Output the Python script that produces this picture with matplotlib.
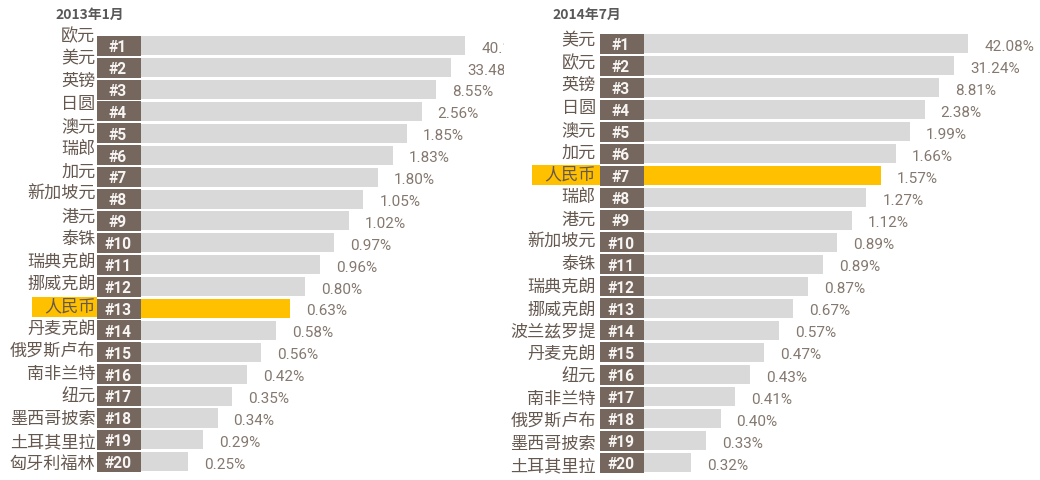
import matplotlib
matplotlib.use("Agg")
import matplotlib.pyplot as plt
import numpy as np
from matplotlib.patches import Rectangle

# ---------------- data ----------------
left_title = "2013年1月"
left_names = ["欧元", "美元", "英镑", "日圆", "澳元", "瑞郎", "加元", "新加坡元", "港元", "泰铢",
              "瑞典克朗", "挪威克朗", "人民币", "丹麦克朗", "俄罗斯卢布", "南非兰特", "纽元",
              "墨西哥披索", "土耳其里拉", "匈牙利福林"]
left_values = [40.17, 33.48, 8.55, 2.56, 1.85, 1.83, 1.80, 1.05, 1.02, 0.97,
               0.96, 0.80, 0.63, 0.58, 0.56, 0.42, 0.35, 0.34, 0.29, 0.25]

right_title = "2014年7月"
right_names = ["美元", "欧元", "英镑", "日圆", "澳元", "加元", "人民币", "瑞郎", "港元", "新加坡元",
               "泰铢", "瑞典克朗", "挪威克朗", "波兰兹罗提", "丹麦克朗", "纽元", "南非兰特",
               "俄罗斯卢布", "墨西哥披索", "土耳其里拉"]
right_values = [42.08, 31.24, 8.81, 2.38, 1.99, 1.66, 1.57, 1.27, 1.12, 0.89,
                0.89, 0.87, 0.67, 0.57, 0.47, 0.43, 0.41, 0.40, 0.33, 0.32]

ranks = list(range(1, 21))
highlight = "人民币"

# ---------------- style ----------------
W, H = 1040, 481
CJK = ["Noto Sans CJK SC", "DejaVu Sans"]
NUM = ["Roboto", "DejaVu Sans"]
BAR_GRAY = "#D9D9D9"
RANK_BOX = "#76675E"
YELLOW = "#FFC000"
NAME_COL = "#65584F"
VAL_COL = "#84786F"
TITLE_COL = "#595959"
UNIT = 14.58  # pixels per rank step of bar length
TOP_LEN = 26.27

fig = plt.figure(figsize=(W / 100, H / 100), dpi=100)
fig.patch.set_facecolor("white")

panels = [
    dict(title=left_title, names=left_names, values=left_values,
         x0=97, x1=504, bar_c0=46.7, bar_step=21.9, lab_c0=36.0, lab_step=22.55,
         lab_gap=1.5, title_x=55, hl_left=32, hl_right=97),
    dict(title=right_title, names=right_names, values=right_values,
         x0=600, x1=1040, bar_c0=44.5, bar_step=22.07, lab_c0=40.5, lab_step=22.4,
         lab_gap=4.0, title_x=552, hl_left=532, hl_right=600),
]

for p in panels:
    ax = fig.add_axes([p["x0"] / W, 0, (p["x1"] - p["x0"]) / W, 1])
    ax.axis("off")
    step = p["bar_step"]
    ax.set_xlim(0, (p["x1"] - p["x0"]) / UNIT)
    ax.set_ylim((H - p["bar_c0"]) / step, -p["bar_c0"] / step)

    n = len(p["names"])
    y = np.arange(n)
    r = np.array(ranks[:n])
    lengths = TOP_LEN - r
    colors = [YELLOW if nm == highlight else BAR_GRAY for nm in p["names"]]

    ax.barh(y, lengths, height=19 / step, color=colors, zorder=1)
    ax.barh(y, 44 / UNIT, height=20 / step, color=RANK_BOX, zorder=2)

    for i in range(n):
        ax.text(21 / UNIT, y[i] + 0.04, f"#{r[i]}", ha="center", va="center",
                color="#F7F5F3", fontsize=11.2, family=NUM, weight="bold", zorder=3)
        ax.text(lengths[i] + 16 / UNIT, y[i] + 2 / step, f"{p['values'][i]:.2f}%",
                ha="left", va="center", color=VAL_COL, fontsize=11, family=NUM,
                clip_on=True, zorder=3)
        ly = (p["lab_c0"] + p["lab_step"] * i - p["bar_c0"]) / step
        ax.text(-p["lab_gap"] / UNIT, ly, p["names"][i], ha="right", va="center",
                color=NAME_COL, fontsize=12.3, family=CJK, clip_on=False, zorder=3)
        if p["names"][i] == highlight:
            hx0 = (p["hl_left"] - p["x0"]) / UNIT
            hx1 = (p["hl_right"] - p["x0"]) / UNIT
            hh = 20 / step
            ax.add_patch(Rectangle((hx0, ly + 1.5 / step - hh / 2), hx1 - hx0, hh,
                                   facecolor=YELLOW, edgecolor="none",
                                   clip_on=False, zorder=0.5))

    fig.text(p["title_x"] / W, 1 - 14.5 / H, p["title"], ha="left", va="center",
             fontsize=10, weight="bold", color=TITLE_COL, family=CJK)

fig.savefig("out.png", dpi=100, facecolor="white")
